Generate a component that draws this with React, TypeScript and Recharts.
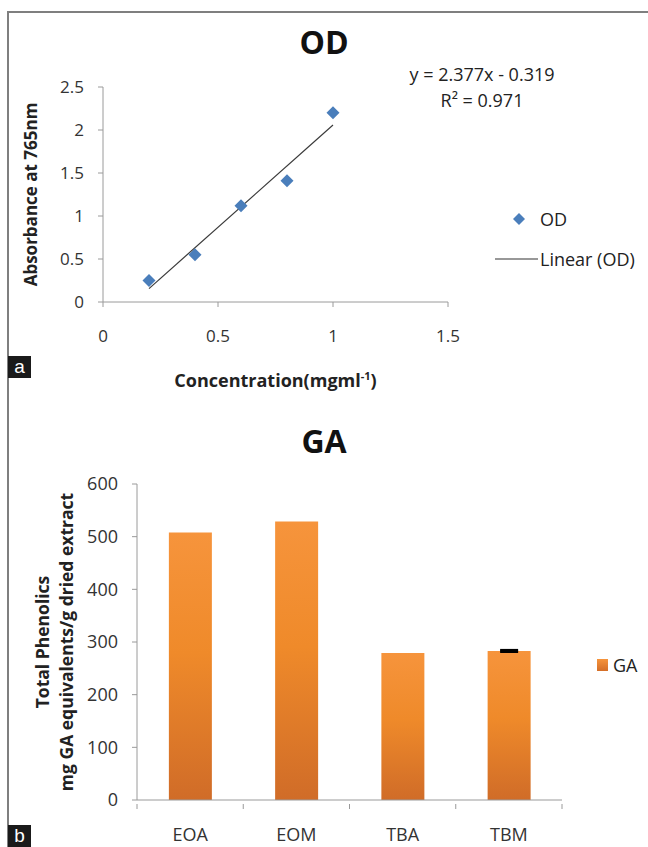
import React from 'react';
import {
  ScatterChart,
  Scatter,
  BarChart,
  Bar,
  ErrorBar,
  XAxis,
  YAxis,
  Legend,
} from 'recharts';

// panel a: calibration points
const odConcentration = [0.2, 0.4, 0.6, 0.8, 1.0];
const odAbsorbance = [0.25, 0.55, 1.12, 1.41, 2.2];
// fitted trend line end points (y = 2.377x - 0.319)
const trendX = [0.2, 1.0];
const trendY = [0.156, 2.058];
const xTicksA = [0, 0.5, 1, 1.5];
const yTicksA = [0, 0.5, 1, 1.5, 2, 2.5];

// panel b: total phenolics
const gaCategories = ['EOA', 'EOM', 'TBA', 'TBM'];
const gaValues = [508, 529, 279, 283];
const gaErrors = [0, 0, 0, 1.5];
const yTicksB = [0, 100, 200, 300, 400, 500, 600];

const FONT = '"Open Sans", sans-serif';
const AXIS = '#9a9a9a';
const BLUE = '#4a7ebb';

const odData = odConcentration.map((x, i) => ({ x, y: odAbsorbance[i] }));
const trendData = trendX.map((x, i) => ({ x, y: trendY[i] }));
const gaData = gaCategories.map((name, i) => ({ name, GA: gaValues[i], err: gaErrors[i] }));

const Diamond = (props: any) => {
  const { cx, cy } = props;
  const r = 6.5;
  return (
    <polygon
      points={`${cx},${cy - r} ${cx + r},${cy} ${cx},${cy + r} ${cx - r},${cy}`}
      fill={BLUE}
    />
  );
};

const YLabelA = (props: any) => {
  const { viewBox } = props;
  const x = viewBox.x + 18;
  const y = viewBox.y + viewBox.height / 2;
  return (
    <text x={x} y={y} transform={`rotate(-90, ${x}, ${y})`} textAnchor="middle"
      dominantBaseline="central" fontFamily={FONT} fontWeight="bold" fontSize={17} fill="#222">
      Absorbance at 765nm
    </text>
  );
};

const XLabelA = (props: any) => {
  const { viewBox } = props;
  const x = viewBox.x + viewBox.width / 2;
  const y = viewBox.y + 85;
  return (
    <text x={x} y={y} textAnchor="middle" fontFamily={FONT} fontWeight="bold" fontSize={18} fill="#222">
      Concentration(mgml<tspan fontSize={11} dy={-7}>-1</tspan><tspan dy={7}>)</tspan>
    </text>
  );
};

const YLabelB = (props: any) => {
  const { viewBox } = props;
  const y = viewBox.y + viewBox.height / 2;
  const x1 = 42;
  const x2 = 66;
  return (
    <g fontFamily={FONT} fontWeight="bold" fontSize={17.5} fill="#222">
      <text x={x1} y={y} transform={`rotate(-90, ${x1}, ${y})`} textAnchor="middle" dominantBaseline="central">
        Total Phenolics
      </text>
      <text x={x2} y={y} transform={`rotate(-90, ${x2}, ${y})`} textAnchor="middle" dominantBaseline="central">
        mg GA equivalents/g dried extract
      </text>
    </g>
  );
};

// category ticks: label at centre, tick marks on the band edges
const BAND_B = (648 - 137 - 86) / 4;
const CategoryTick = (props: any) => {
  const { x, y, payload, index } = props;
  return (
    <g>
      <line x1={x - BAND_B / 2} x2={x - BAND_B / 2} y1={y - 24} y2={y - 19} stroke={AXIS} />
      {index === gaCategories.length - 1 && (
        <line x1={x + BAND_B / 2} x2={x + BAND_B / 2} y1={y - 24} y2={y - 19} stroke={AXIS} />
      )}
      <text x={x} y={y} dy="0.71em" textAnchor="middle" fontFamily={FONT} fontSize={18} fill="#333">
        {payload.value}
      </text>
    </g>
  );
};

const LegendA = () => (
  <div style={{ fontFamily: FONT, fontSize: 18, color: '#222' }}>
    <div style={{ display: 'flex', alignItems: 'center', height: 30 }}>
      <svg width={50} height={20}>
        <polygon points="29,4 35,10 29,16 23,10" fill={BLUE} />
      </svg>
      <span>OD</span>
    </div>
    <div style={{ display: 'flex', alignItems: 'center', height: 30, marginTop: 10 }}>
      <svg width={50} height={20}>
        <line x1={5} x2={48} y1={10} y2={10} stroke="#333" strokeWidth={1.2} />
      </svg>
      <span style={{ whiteSpace: 'nowrap' }}>Linear (OD)</span>
    </div>
  </div>
);

const LegendB = () => (
  <div style={{ display: 'flex', alignItems: 'center', fontFamily: FONT, fontSize: 18, color: '#222' }}>
    <svg width={16} height={14}>
      <defs>
        <linearGradient id="legGrad" x1="0" y1="0" x2="0" y2="1">
          <stop offset="0%" stopColor="#f6943c" />
          <stop offset="100%" stopColor="#d46e28" />
        </linearGradient>
      </defs>
      <rect x={0} y={1} width={11} height={12} fill="url(#legGrad)" />
    </svg>
    <span>GA</span>
  </div>
);

const Tag = ({ letter, top }: { letter: string; top: number }) => (
  <div style={{
    position: 'absolute', left: 8, top, width: 23, height: 22, background: '#1a1a1a', color: '#fff',
    fontFamily: '"Liberation Sans", Arial, sans-serif', fontSize: 19, lineHeight: '21px', textAlign: 'center',
  }}>{letter}</div>
);

export default function App() {
  return (
    <div style={{ position: 'absolute', left: 0, top: 0, width: 648, height: 847, overflow: 'hidden', background: '#fff' }}>
      {/* outer frame */}
      <div style={{ position: 'absolute', left: 7, top: 11, width: 660, height: 860, borderLeft: '2px solid #7f7f7f', borderTop: '2px solid #7f7f7f' }} />

      <div style={{ position: 'absolute', left: 0, top: 20, width: 648, textAlign: 'center', fontFamily: FONT, fontWeight: 'bold', fontSize: 32, color: '#111' }}>
        OD
      </div>
      <div style={{ position: 'absolute', left: 382, top: 61, width: 200, textAlign: 'center', fontFamily: FONT, fontSize: 18, color: '#222', lineHeight: '26px' }}>
        <div style={{ whiteSpace: 'nowrap' }}>y = 2.377x - 0.319</div>
        <div>R² = 0.971</div>
      </div>

      <div style={{ position: 'absolute', left: 0, top: 0 }}>
        <ScatterChart width={648} height={400} margin={{ top: 87, right: 200, bottom: 28, left: 12 }}>
          <XAxis
            dataKey="x"
            type="number"
            domain={[0, 1.5]}
            ticks={xTicksA}
            tickSize={5}
            tickMargin={23}
            height={70}
            stroke={AXIS}
            tick={{ fill: '#333', fontFamily: FONT, fontSize: 17 }}
            label={<XLabelA />}
          />
          <YAxis
            dataKey="y"
            type="number"
            domain={[0, 2.5]}
            ticks={yTicksA}
            tickSize={5}
            tickMargin={14}
            width={91}
            stroke={AXIS}
            tick={{ fill: '#333', fontFamily: FONT, fontSize: 17 }}
            label={<YLabelA />}
          />
          <Scatter
            data={trendData}
            line={{ stroke: '#3a3a3a', strokeWidth: 1.2 }}
            shape={() => <g />}
            isAnimationActive={false}
          />
          <Scatter data={odData} shape={<Diamond />} isAnimationActive={false} />
          <Legend
            layout="vertical"
            align="center"
            verticalAlign="middle"
            content={<LegendA />}
            wrapperStyle={{ position: 'absolute', left: 490, top: 204, width: 158 }}
          />
        </ScatterChart>
      </div>
      <Tag letter="a" top={356} />

      <div style={{ position: 'absolute', left: 0, top: 419, width: 648, textAlign: 'center', fontFamily: FONT, fontWeight: 'bold', fontSize: 32, color: '#111' }}>
        GA
      </div>

      <div style={{ position: 'absolute', left: 0, top: 400 }}>
        <BarChart width={648} height={447} data={gaData} margin={{ top: 84, right: 86, bottom: 7, left: 20 }} barCategoryGap="30%">
          <defs>
            <linearGradient id="gaGrad" x1="0" y1="0" x2="0" y2="1">
              <stop offset="0%" stopColor="#f6943c" />
              <stop offset="45%" stopColor="#ef8a2a" />
              <stop offset="100%" stopColor="#d06c28" />
            </linearGradient>
          </defs>
          <XAxis
            dataKey="name"
            height={40}
            tickLine={false}
            tickSize={5}
            tickMargin={23}
            stroke={AXIS}
            tick={<CategoryTick />}
          />
          <YAxis
            type="number"
            domain={[0, 600]}
            ticks={yTicksB}
            tickSize={5}
            tickMargin={14}
            width={117}
            stroke={AXIS}
            tick={{ fill: '#333', fontFamily: FONT, fontSize: 18 }}
            label={<YLabelB />}
          />
          <Bar dataKey="GA" fill="url(#gaGrad)" isAnimationActive={false}>
            <ErrorBar dataKey="err" width={9} strokeWidth={2.5} stroke="#000" />
          </Bar>
          <Legend
            layout="vertical"
            align="center"
            verticalAlign="middle"
            content={<LegendB />}
            wrapperStyle={{ position: 'absolute', left: 597, top: 253, width: 60 }}
          />
        </BarChart>
      </div>
      <Tag letter="b" top={825} />
    </div>
  );
}
